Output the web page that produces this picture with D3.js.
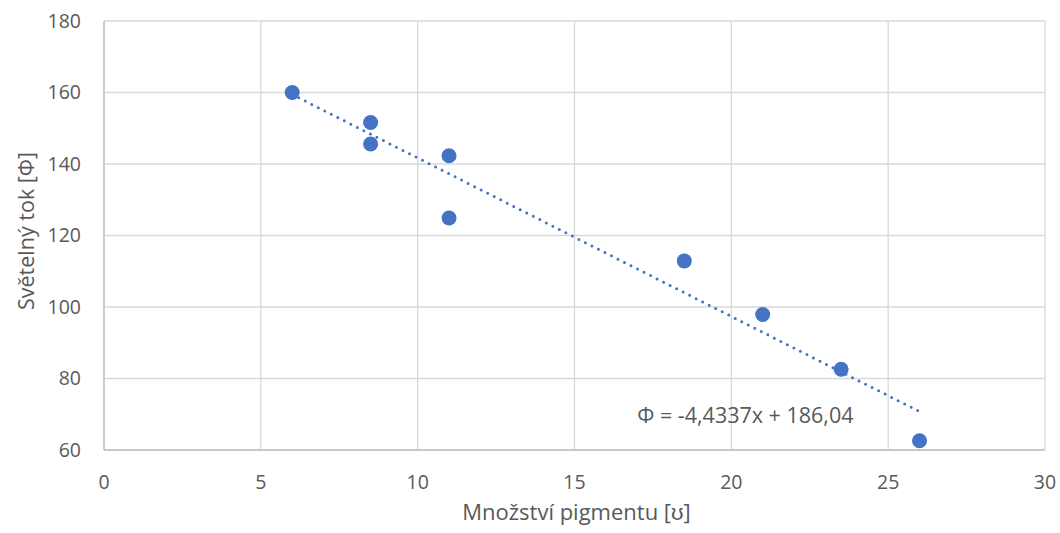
<!DOCTYPE html>
<html>
<head>
<meta charset="utf-8">
<script src="https://cdn.jsdelivr.net/npm/d3@7"></script>
<style>
  body { margin: 0; background: #fff; }
  text { font-family: "Open Sans", sans-serif; fill: #595959; }
</style>
</head>
<body>
<div id="chart"></div>
<script>
// Data
let pigment = [6, 8.5, 8.5, 11, 11, 18.5, 21, 23.5, 26];
let flux = [160, 151.6, 145.6, 142.3, 124.9, 112.9, 97.9, 82.6, 62.6];
let xTicks = [0, 5, 10, 15, 20, 25, 30];
let yTicks = [60, 80, 100, 120, 140, 160, 180];
let slope = -4.4337, intercept = 186.04;
let equationText = "Φ = -4,4337x + 186,04";

let margin = { top: 21, right: 15, bottom: 83, left: 104 },
    width = 1060 - margin.left - margin.right,
    height = 533 - margin.top - margin.bottom;

let x = d3.scaleLinear().domain([0, 30]).range([0, width]);
let y = d3.scaleLinear().domain([60, 180]).range([height, 0]);

let svg = d3.select("#chart").append("svg")
    .attr("width", 1060)
    .attr("height", 533);

let g = svg.append("g")
    .attr("transform", "translate(" + margin.left + "," + margin.top + ")");

// Gridlines
g.selectAll(".hgrid")
    .data(yTicks)
    .enter().append("line")
    .attr("x1", 0).attr("x2", width)
    .attr("y1", d => y(d)).attr("y2", d => y(d))
    .attr("stroke", "#d9d9d9")
    .attr("stroke-width", 1.3);

g.selectAll(".vgrid")
    .data(xTicks)
    .enter().append("line")
    .attr("x1", d => x(d)).attr("x2", d => x(d))
    .attr("y1", 0).attr("y2", height)
    .attr("stroke", "#d9d9d9")
    .attr("stroke-width", 1.3);

// Axis lines
g.append("line")
    .attr("x1", 0).attr("x2", width)
    .attr("y1", height).attr("y2", height)
    .attr("stroke", "#bfbfbf").attr("stroke-width", 1.3);
g.append("line")
    .attr("x1", 0).attr("x2", 0)
    .attr("y1", 0).attr("y2", height)
    .attr("stroke", "#bfbfbf").attr("stroke-width", 1.3);

// Tick labels
g.selectAll(".ylab")
    .data(yTicks)
    .enter().append("text")
    .attr("x", -23)
    .attr("y", d => y(d))
    .attr("dy", "0.35em")
    .attr("text-anchor", "end")
    .style("font-size", "19.5px")
    .text(d => d);

g.selectAll(".xlab")
    .data(xTicks)
    .enter().append("text")
    .attr("x", d => x(d))
    .attr("y", height + 39)
    .attr("text-anchor", "middle")
    .style("font-size", "19.5px")
    .text(d => d);

// Axis titles
svg.append("text")
    .attr("x", margin.left + width / 2 + 2)
    .attr("y", 520)
    .attr("text-anchor", "middle")
    .style("font-size", "22px")
    .text("Množství pigmentu [ʊ]");

svg.append("text")
    .attr("transform", "translate(34,231) rotate(-90)")
    .attr("text-anchor", "middle")
    .style("font-size", "21.5px")
    .text("Světelný tok [Φ]");

// Trendline
let x0 = d3.min(pigment), x1 = d3.max(pigment);
g.append("line")
    .attr("x1", x(x0)).attr("y1", y(slope * x0 + intercept))
    .attr("x2", x(x1)).attr("y2", y(slope * x1 + intercept))
    .attr("stroke", "#4472c4")
    .attr("stroke-width", 3)
    .attr("stroke-linecap", "round")
    .attr("stroke-dasharray", "0 7.3");

// Points
g.selectAll(".dot")
    .data(pigment.map((d, i) => [d, flux[i]]))
    .enter().append("circle")
    .attr("cx", d => x(d[0]))
    .attr("cy", d => y(d[1]))
    .attr("r", 7.5)
    .attr("fill", "#4472c4");

// Equation label
svg.append("text")
    .attr("x", margin.left + x(17.0))
    .attr("y", 423)
    .style("font-size", "21.5px")
    .text(equationText);
</script>
</body>
</html>
